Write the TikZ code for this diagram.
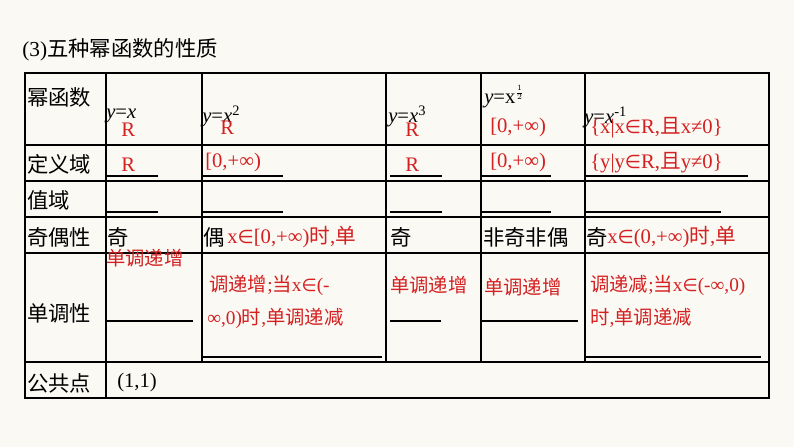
\documentclass[tikz,border=0pt]{standalone}
\usepackage{fontspec}
\setmainfont{Liberation Serif}
\newfontfamily\cjk{Noto Sans CJK SC}
\newfontfamily\symf{DejaVu Sans}
\newcommand{\elm}{{\symf\scalebox{0.9}{∈}}}
\definecolor{bg}{HTML}{FBF9F4}
\definecolor{rd}{HTML}{D42020}
\begin{document}
\begin{tikzpicture}[x=0.75pt,y=-0.75pt,
  t/.style={anchor=west,inner sep=0pt,font=\fontsize{15.5}{17}\selectfont},
  r/.style={t,text=rd},
  blank/.style={line width=0.8pt},
  grid/.style={line width=1pt}]
\fill[bg] (0,0) rectangle (794,447);
\useasboundingbox (0,0) rectangle (794,447);
% grid
\draw[grid,line width=1.6pt] (25,73) rectangle (769,398);
\foreach \y in {145,181,217,253,362} \draw[grid] (25,\y) -- (769,\y);
\draw[grid] (106,73) -- (106,398);
\foreach \x in {202,386,481,585} \draw[grid] (\x,73) -- (\x,362);
% blanks
\foreach \a/\b in {107/158,203/283,390/442,482/551,586/748} \draw[blank] (\a,176)--(\b,176);
\foreach \a/\b in {107/158,203/283,390/442,482/551,586/721} \draw[blank] (\a,212)--(\b,212);
\foreach \a/\b in {107/193,390/441,482/578} \draw[blank] (\a,321)--(\b,321);
\foreach \a/\b in {203/382,586/761} \draw[blank] (\a,357)--(\b,357);
% title
\node[t,font=\cjk\fontsize{16}{18}\selectfont] (title) at (22,50) {{\rmfamily(3)}五种幂函数的性质};
% header row
\node[t,font=\cjk\fontsize{16}{18}\selectfont] (h0) at (27,97) {幂函数};
\node[t] (h1) at (106,116) {\textit{y}=\textit{x}};
\node[t] (h2) at (202,116) {\textit{y}=\textit{x}\textsuperscript{2}};
\node[t] (h3) at (388,116) {\textit{y}=\textit{x}\textsuperscript{3}};
\node[t] (h4) at (484,97) {\textit{y}=x\raisebox{6pt}{\fontsize{9}{9}\selectfont$\frac{1}{2}$}};
\node[t] (h5) at (584,117) {\textit{y}=\textit{x}\textsuperscript{-1}};
\node[r] (d1) at (121,130) {R};
\node[r] (d2) at (220,128) {R};
\node[r] (d3) at (405,130) {R};
\node[r] (d4) at (490,128) {[0,+∞)};
\node[r] (d5) at (590,128) {\{x|x\elm R,{\cjk 且}x≠0\}};
% domain row
\node[t,font=\cjk\fontsize{16}{18}\selectfont] (r1) at (27,164) {定义域};
\node[r] (e1) at (121,165) {R};
\node[r] (e2) at (205,163) {[0,+∞)};
\node[r] (e3) at (405,165) {R};
\node[r] (e4) at (490,163) {[0,+∞)};
\node[r] (e5) at (590,163) {\{y|y\elm R,{\cjk 且}y≠0\}};
% range row
\node[t,font=\cjk\fontsize{16}{18}\selectfont] (r2) at (27,200) {值域};
% parity row
\node[t,font=\cjk\fontsize{16}{18}\selectfont] (r3) at (27,237) {奇偶性};
\node[t,font=\cjk\fontsize{16}{18}\selectfont] (p1) at (107,237) {奇};
\node[t,font=\cjk\fontsize{16}{18}\selectfont] (p2) at (203,237) {偶};
\node[r] (q2) at (227,237) {x\elm[0,+∞){\cjk 时},{\cjk 单}};
\node[t,font=\cjk\fontsize{16}{18}\selectfont] (p3) at (390,237) {奇};
\node[t,font=\cjk\fontsize{16}{18}\selectfont] (p4) at (483,237) {非奇非偶};
\node[t,font=\cjk\fontsize{16}{18}\selectfont] (p5) at (586,237) {奇};
\node[r] (q5) at (607,237) {x\elm(0,+∞){\cjk 时},{\cjk 单}};
% monotonic row
\node[t,font=\cjk\fontsize{16}{18}\selectfont] (r4) at (27,313) {单调性};
\node[r,font=\cjk\fontsize{14.5}{16}\selectfont] (m1) at (106,258) {单调递增};
\node[r,font=\cjk\fontsize{14.5}{16}\selectfont] (m2a) at (209,285) {调递增{\rmfamily;}当{\rmfamily x\elm(-}};
\node[r,font=\cjk\fontsize{14.5}{16}\selectfont] (m2b) at (207,318) {{\rmfamily ∞,0)}时{\rmfamily ,}单调递减};
\node[r,font=\cjk\fontsize{14.5}{16}\selectfont] (m3) at (390,285) {单调递增};
\node[r,font=\cjk\fontsize{14.5}{16}\selectfont] (m4) at (484,287) {单调递增};
\node[r,font=\cjk\fontsize{14.5}{16}\selectfont] (m5a) at (590,285) {调递减{\rmfamily;}当{\rmfamily x\elm(-∞,0)}};
\node[r,font=\cjk\fontsize{14.5}{16}\selectfont] (m5b) at (590,318) {时{\rmfamily ,}单调递减};
% common point
\node[t,font=\cjk\fontsize{16}{18}\selectfont] (r5) at (27,383) {公共点};
\node[t] (c1) at (117,383) {(1,1)};
\end{tikzpicture}
\end{document}
